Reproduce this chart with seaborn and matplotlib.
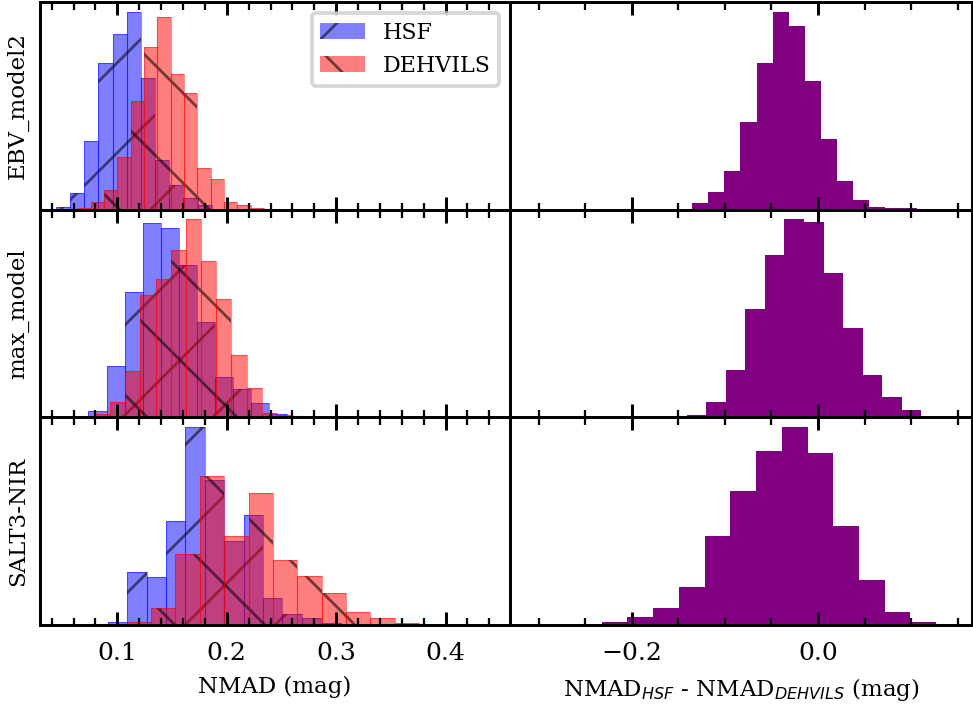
import numpy as np
import pandas as pd
import matplotlib
matplotlib.use("Agg")
import matplotlib.pyplot as plt
import seaborn as sns
from matplotlib.ticker import AutoMinorLocator, MultipleLocator

# histogram values (uniform bins: first edge + bin width)
MODELS = ["EBV_model2", "max_model", "SALT3-NIR"]

HSF_START = [0.0439, 0.0736, 0.0735]
HSF_WIDTH = [0.01294, 0.01650, 0.01774]
HSF_COUNTS = [
    [3, 17, 69, 147, 176, 198, 132, 50, 25, 12, 5],
    [6, 51, 125, 194, 189, 152, 95, 40, 28, 14, 3.3, 1],
    [1, 3, 53, 48, 104, 198, 145, 84, 110, 27, 11, 6.7, 1.7],
]

DEH_START = [0.0634, 0.0656, 0.1086]
DEH_WIDTH = [0.01219, 0.01387, 0.02227]
DEH_COUNTS = [
    [1.5, 8, 20, 53, 109, 163, 193, 136, 117, 42, 31, 8, 5, 2],
    [1, 3, 15, 46, 122, 138, 167, 198, 156, 118, 62, 29, 4, 2, 1],
    [2.7, 17.3, 71.3, 149, 89, 132, 65, 49, 32, 13, 7.3, 2, 1],
]

DIFF_START = [-0.1521, -0.1622, -0.2600]
DIFF_WIDTH = [0.01722, 0.02103, 0.02764]
DIFF_COUNTS = [
    [1, 6.7, 17.3, 38.3, 88.3, 147.3, 198.3, 184.3, 129.3, 70.3, 28.3, 9.3,
     2.3, 1.3, 1.3],
    [0.7, 2.7, 15.3, 47.3, 108.3, 162.3, 197.3, 194.3, 144.3, 89.3, 42.3,
     20.3, 7.3, 1.3, 0.7],
    [0.7, 3, 8, 17, 38, 89, 134, 174, 198, 172, 99, 45, 13, 3, 1],
]

plt.rcParams["font.family"] = "serif"
plt.rcParams["xtick.labelsize"] = 6.7
plt.rcParams["axes.labelsize"] = 6.1
plt.rcParams["xtick.major.pad"] = 4.5
plt.rcParams["xtick.minor.pad"] = 4.5
plt.rcParams["axes.labelpad"] = 3.0
plt.rcParams["hatch.linewidth"] = 0.75


def draw_hist(ax, start, width, counts, **kws):
    """Draw a pre-binned histogram through seaborn."""
    edges = start + width * np.arange(len(counts) + 1)
    df = pd.DataFrame({"x": edges[:-1] + width / 2,
                       "w": np.asarray(counts, dtype=float)})
    sns.histplot(data=df, x="x", weights="w", bins=list(edges), ax=ax, **kws)


def draw_layer(ax, start, width, counts, color, hatch, label):
    """Translucent hatched histogram with faint bin outlines."""
    draw_hist(ax, start, width, counts, color=color, alpha=0.5, hatch=hatch,
              edgecolor=(0, 0, 0, 0.55), linewidth=0, label=label)
    draw_hist(ax, start, width, counts, color=color, alpha=0.45,
              fill=False, linewidth=0.3)


fig = plt.figure(figsize=(973.2 / 270, 707.2 / 270), dpi=270)
gs = fig.add_gridspec(3, 2, left=0.0411, right=0.999, top=0.997,
                      bottom=0.116, hspace=0, wspace=0,
                      width_ratios=[470, 462])
axes = np.empty((3, 2), dtype=object)
for i in range(3):
    for j in range(2):
        share = axes[0, j] if i > 0 else None
        axes[i, j] = fig.add_subplot(gs[i, j], sharex=share)

for i, model in enumerate(MODELS):
    ax = axes[i, 0]
    draw_layer(ax, HSF_START[i], HSF_WIDTH[i], HSF_COUNTS[i], "blue", "/",
               "HSF")
    draw_layer(ax, DEH_START[i], DEH_WIDTH[i], DEH_COUNTS[i], "red", "\\",
               "DEHVILS")
    ax.set_ylabel(model)
    ax.set_xlabel("")

    ax = axes[i, 1]
    draw_hist(ax, DIFF_START[i], DIFF_WIDTH[i], DIFF_COUNTS[i],
              color="purple", alpha=1, linewidth=0)
    ax.set_ylabel("")
    ax.set_xlabel("")

for row in range(3):
    for ax in axes[row]:
        ax.set_yticks([])
        ax.tick_params(axis="x", which="both", direction="in", top=True,
                       bottom=True, labelbottom=(row == 2))
        ax.xaxis.set_minor_locator(AutoMinorLocator())

axes[0, 0].xaxis.set_major_locator(MultipleLocator(0.1))
axes[0, 0].set_xlim(0.0293, 0.459)
axes[0, 1].xaxis.set_major_locator(MultipleLocator(0.2))
axes[0, 1].set_xlim(-0.3307, 0.1657)

axes[2, 0].set_xlabel("NMAD (mag)")
axes[2, 1].set_xlabel(r"NMAD$_{HSF}$ - NMAD$_{DEHVILS}$ (mag)")

handles, labels = axes[0, 0].get_legend_handles_labels()
axes[0, 0].legend(handles[:2], labels[:2], loc="upper right", fontsize=5.9)

fig.savefig("out.png", dpi=270)
